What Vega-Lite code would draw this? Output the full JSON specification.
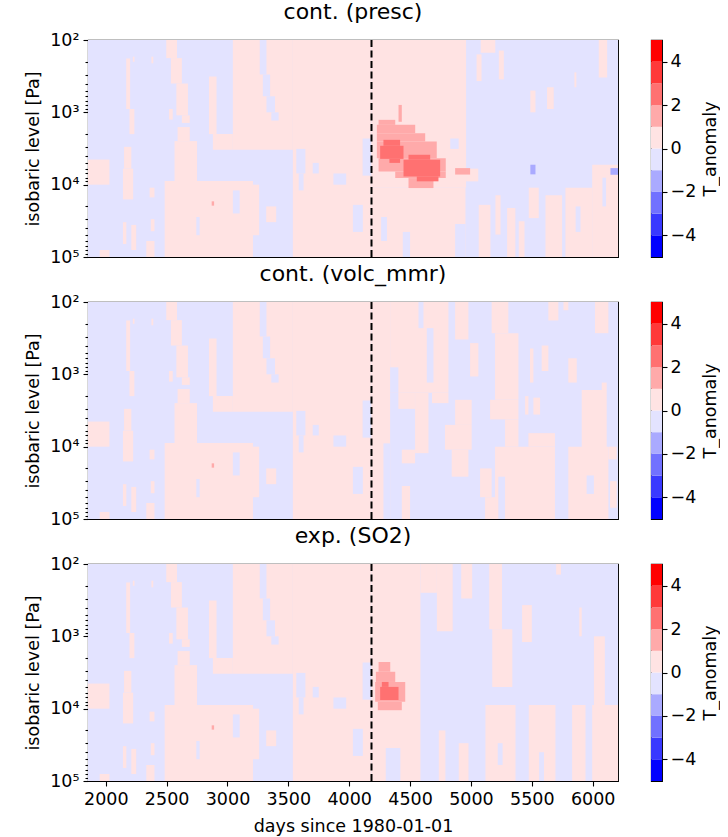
{
  "$schema": "https://vega.github.io/schema/vega-lite/v6.json",
  "padding": {"left": 24, "top": 0, "right": 0, "bottom": 3},
  "background": "white",
  "config": {
    "font": "DejaVu Sans",
    "view": {"stroke": "black", "strokeWidth": 1.1},
    "axis": {"labelFont": "DejaVu Sans", "titleFont": "DejaVu Sans", "labelFontSize": 17.5, "titleFontSize": 17.5, "titleFontWeight": "normal", "labelColor": "black", "titleColor": "black", "tickColor": "black", "domain": false, "grid": false, "tickWidth": 1.1},
    "title": {"fontSize": 22, "fontWeight": "normal", "font": "DejaVu Sans", "color": "black", "offset": 7, "anchor": "middle"}
  },
  "datasets": {
    "eruption": [{"day": 4183}],
    "levels": [
      {"lo": -5, "hi": -4, "mid": -4.5, "a": 0, "b": 1},
      {"lo": -4, "hi": -3, "mid": -3.5, "a": 0, "b": 1},
      {"lo": -3, "hi": -2, "mid": -2.5, "a": 0, "b": 1},
      {"lo": -2, "hi": -1, "mid": -1.5, "a": 0, "b": 1},
      {"lo": -1, "hi": 0, "mid": -0.5, "a": 0, "b": 1},
      {"lo": 0, "hi": 1, "mid": 0.5, "a": 0, "b": 1},
      {"lo": 1, "hi": 2, "mid": 1.5, "a": 0, "b": 1},
      {"lo": 2, "hi": 3, "mid": 2.5, "a": 0, "b": 1},
      {"lo": 3, "hi": 4, "mid": 3.5, "a": 0, "b": 1},
      {"lo": 4, "hi": 5, "mid": 4.5, "a": 0, "b": 1}
    ],
    "cells": [
      {"panel": "p1", "d0": 1854, "d1": 6208, "p0": 100, "p1": 100000, "T": -0.5},
      {"panel": "p2", "d0": 1854, "d1": 6208, "p0": 100, "p1": 100000, "T": -0.5},
      {"panel": "p3", "d0": 1854, "d1": 6208, "p0": 100, "p1": 100000, "T": -0.5},

      {"panel": "all", "d0": 2168, "d1": 2200, "p0": 180, "p1": 900, "T": 0.5},
      {"panel": "all", "d0": 2195, "d1": 2235, "p0": 900, "p1": 2000, "T": 0.5},
      {"panel": "all", "d0": 2222, "d1": 2236, "p0": 170, "p1": 200, "T": 0.5},
      {"panel": "all", "d0": 2375, "d1": 2390, "p0": 170, "p1": 210, "T": 0.5},
      {"panel": "all", "d0": 2497, "d1": 2585, "p0": 100, "p1": 178, "T": 0.5},
      {"panel": "all", "d0": 2535, "d1": 2625, "p0": 178, "p1": 400, "T": 0.5},
      {"panel": "all", "d0": 2580, "d1": 2675, "p0": 400, "p1": 1100, "T": 0.5},
      {"panel": "all", "d0": 2625, "d1": 2690, "p0": 1100, "p1": 1400, "T": 0.5},
      {"panel": "all", "d0": 2520, "d1": 2550, "p0": 900, "p1": 1260, "T": 0.5},
      {"panel": "all", "d0": 2590, "d1": 2690, "p0": 1600, "p1": 2500, "T": 0.5},
      {"panel": "all", "d0": 2565, "d1": 2750, "p0": 2500, "p1": 9000, "T": 0.5},
      {"panel": "all", "d0": 2848, "d1": 2910, "p0": 320, "p1": 2000, "T": 0.5},
      {"panel": "all", "d0": 2880, "d1": 3044, "p0": 2000, "p1": 3300, "T": 0.5},
      {"panel": "all", "d0": 3044, "d1": 3537, "p0": 100, "p1": 3300, "T": 0.5},
      {"panel": "all", "d0": 3537, "d1": 4183, "p0": 100, "p1": 100000, "T": 0.5},
      {"panel": "all", "d0": 2484, "d1": 3209, "p0": 8900, "p1": 100000, "T": 0.5},
      {"panel": "all", "d0": 3209, "d1": 3260, "p0": 10000, "p1": 50000, "T": 0.5},
      {"panel": "all", "d0": 3318, "d1": 3400, "p0": 20000, "p1": 33000, "T": 0.5},
      {"panel": "all", "d0": 1854, "d1": 2030, "p0": 4500, "p1": 10000, "T": 0.5},
      {"panel": "all", "d0": 2150, "d1": 2210, "p0": 3000, "p1": 6000, "T": 0.5},
      {"panel": "all", "d0": 2141, "d1": 2225, "p0": 6000, "p1": 16000, "T": 0.5},
      {"panel": "all", "d0": 2360, "d1": 2400, "p0": 11000, "p1": 15000, "T": 0.5},
      {"panel": "all", "d0": 2370, "d1": 2400, "p0": 30000, "p1": 44000, "T": 0.5},
      {"panel": "all", "d0": 2141, "d1": 2169, "p0": 33000, "p1": 66000, "T": 0.5},
      {"panel": "all", "d0": 2210, "d1": 2250, "p0": 36000, "p1": 80000, "T": 0.5},
      {"panel": "all", "d0": 2333, "d1": 2400, "p0": 60000, "p1": 100000, "T": 0.5},
      {"panel": "all", "d0": 1950, "d1": 2030, "p0": 80000, "p1": 100000, "T": 0.5},
      {"panel": "all", "d0": 3265, "d1": 3320, "p0": 100, "p1": 300, "T": -0.5},
      {"panel": "all", "d0": 3290, "d1": 3350, "p0": 300, "p1": 600, "T": -0.5},
      {"panel": "all", "d0": 3320, "d1": 3390, "p0": 600, "p1": 1000, "T": -0.5},
      {"panel": "all", "d0": 3360, "d1": 3420, "p0": 1000, "p1": 1300, "T": -0.5},
      {"panel": "all", "d0": 4110, "d1": 4183, "p0": 2300, "p1": 7500, "T": -0.5},
      {"panel": "all", "d0": 3565, "d1": 3640, "p0": 3200, "p1": 7000, "T": -0.5},
      {"panel": "all", "d0": 3585, "d1": 3625, "p0": 7000, "p1": 12000, "T": -0.5},
      {"panel": "all", "d0": 3700, "d1": 3750, "p0": 5000, "p1": 7000, "T": -0.5},
      {"panel": "all", "d0": 3870, "d1": 3975, "p0": 7000, "p1": 10000, "T": -0.5},
      {"panel": "all", "d0": 4030, "d1": 4112, "p0": 19000, "p1": 45000, "T": -0.5},
      {"panel": "all", "d0": 2744, "d1": 2771, "p0": 28000, "p1": 50000, "T": -0.5},
      {"panel": "all", "d0": 3044, "d1": 3100, "p0": 12000, "p1": 25000, "T": -0.5},
      {"panel": "all", "d0": 2870, "d1": 2890, "p0": 17000, "p1": 19500, "T": 1.5},

      {"panel": "p1", "d0": 4183, "d1": 4960, "p0": 100, "p1": 11000, "T": 0.5},
      {"panel": "p1", "d0": 4960, "d1": 5060, "p0": 6000, "p1": 9000, "T": 0.5},
      {"panel": "p1", "d0": 4183, "d1": 4955, "p0": 11000, "p1": 100000, "T": 0.5},
      {"panel": "p1", "d0": 4830, "d1": 4899, "p0": 2300, "p1": 3200, "T": -0.5},
      {"panel": "p1", "d0": 4262, "d1": 4310, "p0": 28000, "p1": 60000, "T": -0.5},
      {"panel": "p1", "d0": 4440, "d1": 4500, "p0": 45000, "p1": 100000, "T": -0.5},
      {"panel": "p1", "d0": 4870, "d1": 4955, "p0": 35000, "p1": 100000, "T": -0.5},
      {"panel": "p1", "d0": 5046, "d1": 5087, "p0": 158, "p1": 370, "T": 0.5},
      {"panel": "p1", "d0": 5080, "d1": 5200, "p0": 100, "p1": 150, "T": 0.5},
      {"panel": "p1", "d0": 5229, "d1": 5270, "p0": 140, "p1": 350, "T": 0.5},
      {"panel": "p1", "d0": 5488, "d1": 5530, "p0": 500, "p1": 1000, "T": 0.5},
      {"panel": "p1", "d0": 5625, "d1": 5680, "p0": 450, "p1": 900, "T": 0.5},
      {"panel": "p1", "d0": 5850, "d1": 5866, "p0": 280, "p1": 450, "T": 0.5},
      {"panel": "p1", "d0": 6050, "d1": 6119, "p0": 100, "p1": 330, "T": 0.5},
      {"panel": "p1", "d0": 5064, "d1": 5160, "p0": 19000, "p1": 100000, "T": 0.5},
      {"panel": "p1", "d0": 5201, "d1": 5243, "p0": 14000, "p1": 49000, "T": 0.5},
      {"panel": "p1", "d0": 5297, "d1": 5365, "p0": 21000, "p1": 100000, "T": 0.5},
      {"panel": "p1", "d0": 5393, "d1": 5440, "p0": 32000, "p1": 100000, "T": 0.5},
      {"panel": "p1", "d0": 5475, "d1": 5557, "p0": 11000, "p1": 29000, "T": 0.5},
      {"panel": "p1", "d0": 5612, "d1": 5749, "p0": 14000, "p1": 100000, "T": 0.5},
      {"panel": "p1", "d0": 5776, "d1": 5996, "p0": 11000, "p1": 100000, "T": 0.5},
      {"panel": "p1", "d0": 5996, "d1": 6208, "p0": 5300, "p1": 100000, "T": 0.5},
      {"panel": "p1", "d0": 5860, "d1": 5900, "p0": 20000, "p1": 45000, "T": -0.5},
      {"panel": "p1", "d0": 6080, "d1": 6110, "p0": 8000, "p1": 20000, "T": -0.5},
      {"panel": "p1", "d0": 4405, "d1": 4432, "p0": 790, "p1": 1350, "T": 1.5},
      {"panel": "p1", "d0": 4241, "d1": 4378, "p0": 1270, "p1": 1490, "T": 1.5},
      {"panel": "p1", "d0": 4227, "d1": 4542, "p0": 1490, "p1": 1950, "T": 1.5},
      {"panel": "p1", "d0": 4227, "d1": 4624, "p0": 1950, "p1": 2530, "T": 1.5},
      {"panel": "p1", "d0": 4227, "d1": 4719, "p0": 2530, "p1": 4300, "T": 1.5},
      {"panel": "p1", "d0": 4241, "d1": 4793, "p0": 4300, "p1": 6560, "T": 1.5},
      {"panel": "p1", "d0": 4378, "d1": 4793, "p0": 6560, "p1": 8110, "T": 1.5},
      {"panel": "p1", "d0": 4487, "d1": 4692, "p0": 8110, "p1": 11140, "T": 1.5},
      {"panel": "p1", "d0": 4870, "d1": 4993, "p0": 5900, "p1": 7250, "T": 1.5},
      {"panel": "p1", "d0": 4281, "d1": 4418, "p0": 2400, "p1": 2900, "T": 2.5},
      {"panel": "p1", "d0": 4254, "d1": 4446, "p0": 2900, "p1": 4400, "T": 2.5},
      {"panel": "p1", "d0": 4330, "d1": 4418, "p0": 4400, "p1": 5000, "T": 2.5},
      {"panel": "p1", "d0": 4487, "d1": 4665, "p0": 3860, "p1": 4520, "T": 2.5},
      {"panel": "p1", "d0": 4446, "d1": 4747, "p0": 4520, "p1": 7690, "T": 2.5},
      {"panel": "p1", "d0": 4555, "d1": 4733, "p0": 7690, "p1": 8990, "T": 2.5},
      {"panel": "p1", "d0": 5488, "d1": 5530, "p0": 5300, "p1": 7200, "T": -1.5},
      {"panel": "p1", "d0": 6146, "d1": 6208, "p0": 5900, "p1": 7300, "T": -1.5},

      {"panel": "p2", "d0": 4183, "d1": 4336, "p0": 100, "p1": 100000, "T": 0.5},
      {"panel": "p2", "d0": 4336, "d1": 4815, "p0": 100, "p1": 1800, "T": 0.5},
      {"panel": "p2", "d0": 4404, "d1": 4540, "p0": 1800, "p1": 3000, "T": 0.5},
      {"panel": "p2", "d0": 4680, "d1": 4815, "p0": 1800, "p1": 2500, "T": 0.5},
      {"panel": "p2", "d0": 4569, "d1": 4610, "p0": 100, "p1": 230, "T": -0.5},
      {"panel": "p2", "d0": 4637, "d1": 4692, "p0": 230, "p1": 1300, "T": -0.5},
      {"panel": "p2", "d0": 4336, "d1": 4404, "p0": 800, "p1": 1800, "T": -0.5},
      {"panel": "p2", "d0": 4541, "d1": 4651, "p0": 1800, "p1": 12300, "T": 0.5},
      {"panel": "p2", "d0": 4870, "d1": 5006, "p0": 2250, "p1": 5000, "T": 0.5},
      {"panel": "p2", "d0": 4787, "d1": 5006, "p0": 5000, "p1": 11000, "T": 0.5},
      {"panel": "p2", "d0": 4842, "d1": 4979, "p0": 11000, "p1": 26000, "T": 0.5},
      {"panel": "p2", "d0": 4870, "d1": 4979, "p0": 100, "p1": 330, "T": 0.5},
      {"panel": "p2", "d0": 4993, "d1": 5061, "p0": 370, "p1": 1070, "T": 0.5},
      {"panel": "p2", "d0": 5170, "d1": 5307, "p0": 100, "p1": 270, "T": 0.5},
      {"panel": "p2", "d0": 5198, "d1": 5390, "p0": 270, "p1": 2250, "T": 0.5},
      {"panel": "p2", "d0": 5157, "d1": 5390, "p0": 2250, "p1": 4200, "T": 0.5},
      {"panel": "p2", "d0": 5280, "d1": 5390, "p0": 4200, "p1": 10000, "T": 0.5},
      {"panel": "p2", "d0": 5198, "d1": 5690, "p0": 10000, "p1": 100000, "T": 0.5},
      {"panel": "p2", "d0": 5472, "d1": 5690, "p0": 6500, "p1": 10000, "T": 0.5},
      {"panel": "p2", "d0": 5225, "d1": 5280, "p0": 26000, "p1": 100000, "T": -0.5},
      {"panel": "p2", "d0": 5485, "d1": 5513, "p0": 440, "p1": 1300, "T": 0.5},
      {"panel": "p2", "d0": 5581, "d1": 5636, "p0": 400, "p1": 900, "T": 0.5},
      {"panel": "p2", "d0": 5445, "d1": 5472, "p0": 2000, "p1": 3600, "T": 0.5},
      {"panel": "p2", "d0": 5513, "d1": 5568, "p0": 2100, "p1": 3600, "T": 0.5},
      {"panel": "p2", "d0": 5800, "d1": 5869, "p0": 600, "p1": 1300, "T": 0.5},
      {"panel": "p2", "d0": 5636, "d1": 5718, "p0": 100, "p1": 180, "T": 0.5},
      {"panel": "p2", "d0": 5760, "d1": 5800, "p0": 100, "p1": 130, "T": 0.5},
      {"panel": "p2", "d0": 6019, "d1": 6129, "p0": 100, "p1": 270, "T": 0.5},
      {"panel": "p2", "d0": 5910, "d1": 6115, "p0": 1650, "p1": 15000, "T": 0.5},
      {"panel": "p2", "d0": 6074, "d1": 6115, "p0": 1300, "p1": 1650, "T": 0.5},
      {"panel": "p2", "d0": 5800, "d1": 6129, "p0": 10000, "p1": 100000, "T": 0.5},
      {"panel": "p2", "d0": 6129, "d1": 6197, "p0": 10000, "p1": 15000, "T": 0.5},
      {"panel": "p2", "d0": 6143, "d1": 6197, "p0": 30000, "p1": 70000, "T": 0.5},
      {"panel": "p2", "d0": 5950, "d1": 6010, "p0": 25000, "p1": 45000, "T": -0.5},
      {"panel": "p2", "d0": 4432, "d1": 4500, "p0": 35000, "p1": 100000, "T": 0.5},
      {"panel": "p2", "d0": 4432, "d1": 4541, "p0": 11000, "p1": 17000, "T": 0.5},
      {"panel": "p2", "d0": 5075, "d1": 5170, "p0": 20000, "p1": 50000, "T": 0.5},
      {"panel": "p2", "d0": 5116, "d1": 5198, "p0": 50000, "p1": 100000, "T": 0.5},
      {"panel": "p2", "d0": 4281, "d1": 4336, "p0": 9000, "p1": 100000, "T": -0.5},

      {"panel": "p3", "d0": 4183, "d1": 4585, "p0": 100, "p1": 100000, "T": 0.5},
      {"panel": "p3", "d0": 4585, "d1": 4720, "p0": 100, "p1": 250, "T": 0.5},
      {"panel": "p3", "d0": 4720, "d1": 4850, "p0": 100, "p1": 850, "T": 0.5},
      {"panel": "p3", "d0": 4920, "d1": 5010, "p0": 100, "p1": 300, "T": 0.5},
      {"panel": "p3", "d0": 5150, "d1": 5255, "p0": 100, "p1": 800, "T": 0.5},
      {"panel": "p3", "d0": 5175, "d1": 5340, "p0": 800, "p1": 5000, "T": 0.5},
      {"panel": "p3", "d0": 5420, "d1": 5500, "p0": 370, "p1": 1200, "T": 0.5},
      {"panel": "p3", "d0": 5890, "d1": 5910, "p0": 400, "p1": 1000, "T": 0.5},
      {"panel": "p3", "d0": 5700, "d1": 5740, "p0": 100, "p1": 140, "T": 0.5},
      {"panel": "p3", "d0": 6010, "d1": 6100, "p0": 1000, "p1": 9000, "T": 0.5},
      {"panel": "p3", "d0": 5119, "d1": 5366, "p0": 8900, "p1": 100000, "T": 0.5},
      {"panel": "p3", "d0": 5475, "d1": 5694, "p0": 8900, "p1": 100000, "T": 0.5},
      {"panel": "p3", "d0": 5831, "d1": 5941, "p0": 8900, "p1": 100000, "T": 0.5},
      {"panel": "p3", "d0": 5996, "d1": 6208, "p0": 8900, "p1": 100000, "T": 0.5},
      {"panel": "p3", "d0": 4736, "d1": 4790, "p0": 20000, "p1": 100000, "T": 0.5},
      {"panel": "p3", "d0": 4900, "d1": 4980, "p0": 30000, "p1": 100000, "T": 0.5},
      {"panel": "p3", "d0": 4300, "d1": 4420, "p0": 35000, "p1": 100000, "T": -0.5},
      {"panel": "p3", "d0": 5220, "d1": 5260, "p0": 30000, "p1": 60000, "T": -0.5},
      {"panel": "p3", "d0": 5560, "d1": 5600, "p0": 40000, "p1": 100000, "T": -0.5},
      {"panel": "p3", "d0": 4241, "d1": 4337, "p0": 2270, "p1": 3090, "T": 1.5},
      {"panel": "p3", "d0": 4219, "d1": 4378, "p0": 3090, "p1": 4270, "T": 1.5},
      {"panel": "p3", "d0": 4213, "d1": 4460, "p0": 4270, "p1": 8040, "T": 1.5},
      {"panel": "p3", "d0": 4235, "d1": 4432, "p0": 8040, "p1": 10500, "T": 1.5},
      {"panel": "p3", "d0": 4268, "d1": 4323, "p0": 4270, "p1": 5000, "T": 2.5},
      {"panel": "p3", "d0": 4254, "d1": 4405, "p0": 5000, "p1": 7590, "T": 2.5}
    ]
  },
  "columns": 2,
  "spacing": {"row": 45, "column": 33},
  "bounds": "flush",
  "resolve": {"scale": {"x": "independent", "y": "independent", "color": "independent"}},
  "concat": [
    {
      "title": "cont. (presc)",
      "width": 530, "height": 217,
      "layer": [
        {
          "data": {"name": "cells"},
          "transform": [{"filter": "datum.panel == 'p1' || datum.panel == 'all'"}],
          "mark": {"type": "rect", "clip": true},
          "encoding": {
            "x": {"field": "d0", "type": "quantitative", "scale": {"domain": [1854, 6208], "nice": false, "zero": false}, "axis": null},
            "x2": {"field": "d1"},
            "y": {"field": "p0", "type": "quantitative", "scale": {"type": "log", "domain": [100, 100000], "reverse": true, "nice": false},
              "axis": {"title": "isobaric level [Pa]", "values": [100,200,300,400,500,600,700,800,900,1000,2000,3000,4000,5000,6000,7000,8000,9000,10000,20000,30000,40000,50000,60000,70000,80000,90000,100000],
                "labelExpr": "datum.value == 100 ? '10²' : datum.value == 1000 ? '10³' : datum.value == 10000 ? '10⁴' : datum.value == 100000 ? '10⁵' : ''",
                "tickSize": {"condition": {"test": "indexof([100,1000,10000,100000], datum.value) >= 0", "value": 5}, "value": 3},
                "labelOverlap": false, "labelFlush": false, "labelPadding": 4, "titlePadding": 7}},
            "y2": {"field": "p1"},
            "color": {"field": "T", "type": "quantitative", "scale": {"type": "threshold", "domain": [-4,-3,-2,-1,0,1,2,3,4], "range": ["#0000ff","#3939ff","#7171ff","#aaaaff","#e3e3ff","#ffe3e3","#ffaaaa","#ff7171","#ff3939","#ff0000"]}, "legend": null}
          }
        },
        {
          "data": {"name": "eruption"},
          "mark": {"type": "rule", "color": "black", "strokeDash": [7, 3.5], "strokeWidth": 2},
          "encoding": {"x": {"field": "day", "type": "quantitative"}}
        }
      ]
    },
    {
      "width": 11, "height": 217,
      "data": {"name": "levels"},
      "mark": "rect",
      "encoding": {
        "x": {"field": "a", "type": "quantitative", "scale": {"domain": [0, 1], "nice": false}, "axis": null},
        "x2": {"field": "b"},
        "y": {"field": "lo", "type": "quantitative", "scale": {"domain": [-5, 5], "nice": false, "zero": false}, "axis": {"orient": "right", "values": [-4,-2,0,2,4], "title": "T_anomaly", "tickSize": 5, "labelPadding": 3, "titleAngle": 270, "titlePadding": 24}},
        "y2": {"field": "hi"},
        "color": {"field": "mid", "type": "quantitative", "scale": {"type": "threshold", "domain": [-4,-3,-2,-1,0,1,2,3,4], "range": ["#0000ff","#3939ff","#7171ff","#aaaaff","#e3e3ff","#ffe3e3","#ffaaaa","#ff7171","#ff3939","#ff0000"]}, "legend": null}
      }
    },
    {
      "title": "cont. (volc_mmr)",
      "width": 530, "height": 217,
      "layer": [
        {
          "data": {"name": "cells"},
          "transform": [{"filter": "datum.panel == 'p2' || datum.panel == 'all'"}],
          "mark": {"type": "rect", "clip": true},
          "encoding": {
            "x": {"field": "d0", "type": "quantitative", "scale": {"domain": [1854, 6208], "nice": false, "zero": false}, "axis": null},
            "x2": {"field": "d1"},
            "y": {"field": "p0", "type": "quantitative", "scale": {"type": "log", "domain": [100, 100000], "reverse": true, "nice": false},
              "axis": {"title": "isobaric level [Pa]", "values": [100,200,300,400,500,600,700,800,900,1000,2000,3000,4000,5000,6000,7000,8000,9000,10000,20000,30000,40000,50000,60000,70000,80000,90000,100000],
                "labelExpr": "datum.value == 100 ? '10²' : datum.value == 1000 ? '10³' : datum.value == 10000 ? '10⁴' : datum.value == 100000 ? '10⁵' : ''",
                "tickSize": {"condition": {"test": "indexof([100,1000,10000,100000], datum.value) >= 0", "value": 5}, "value": 3},
                "labelOverlap": false, "labelFlush": false, "labelPadding": 4, "titlePadding": 7}},
            "y2": {"field": "p1"},
            "color": {"field": "T", "type": "quantitative", "scale": {"type": "threshold", "domain": [-4,-3,-2,-1,0,1,2,3,4], "range": ["#0000ff","#3939ff","#7171ff","#aaaaff","#e3e3ff","#ffe3e3","#ffaaaa","#ff7171","#ff3939","#ff0000"]}, "legend": null}
          }
        },
        {
          "data": {"name": "eruption"},
          "mark": {"type": "rule", "color": "black", "strokeDash": [7, 3.5], "strokeWidth": 2},
          "encoding": {"x": {"field": "day", "type": "quantitative"}}
        }
      ]
    },
    {
      "width": 11, "height": 217,
      "data": {"name": "levels"},
      "mark": "rect",
      "encoding": {
        "x": {"field": "a", "type": "quantitative", "scale": {"domain": [0, 1], "nice": false}, "axis": null},
        "x2": {"field": "b"},
        "y": {"field": "lo", "type": "quantitative", "scale": {"domain": [-5, 5], "nice": false, "zero": false}, "axis": {"orient": "right", "values": [-4,-2,0,2,4], "title": "T_anomaly", "tickSize": 5, "labelPadding": 3, "titleAngle": 270, "titlePadding": 24}},
        "y2": {"field": "hi"},
        "color": {"field": "mid", "type": "quantitative", "scale": {"type": "threshold", "domain": [-4,-3,-2,-1,0,1,2,3,4], "range": ["#0000ff","#3939ff","#7171ff","#aaaaff","#e3e3ff","#ffe3e3","#ffaaaa","#ff7171","#ff3939","#ff0000"]}, "legend": null}
      }
    },
    {
      "title": "exp. (SO2)",
      "width": 530, "height": 217,
      "layer": [
        {
          "data": {"name": "cells"},
          "transform": [{"filter": "datum.panel == 'p3' || datum.panel == 'all'"}],
          "mark": {"type": "rect", "clip": true},
          "encoding": {
            "x": {"field": "d0", "type": "quantitative", "scale": {"domain": [1854, 6208], "nice": false, "zero": false},
              "axis": {"title": "days since 1980-01-01", "values": [2000,2500,3000,3500,4000,4500,5000,5500,6000], "format": "d", "tickSize": 5, "labelPadding": 4, "titlePadding": 10, "labelFlush": false}},
            "x2": {"field": "d1"},
            "y": {"field": "p0", "type": "quantitative", "scale": {"type": "log", "domain": [100, 100000], "reverse": true, "nice": false},
              "axis": {"title": "isobaric level [Pa]", "values": [100,200,300,400,500,600,700,800,900,1000,2000,3000,4000,5000,6000,7000,8000,9000,10000,20000,30000,40000,50000,60000,70000,80000,90000,100000],
                "labelExpr": "datum.value == 100 ? '10²' : datum.value == 1000 ? '10³' : datum.value == 10000 ? '10⁴' : datum.value == 100000 ? '10⁵' : ''",
                "tickSize": {"condition": {"test": "indexof([100,1000,10000,100000], datum.value) >= 0", "value": 5}, "value": 3},
                "labelOverlap": false, "labelFlush": false, "labelPadding": 4, "titlePadding": 7}},
            "y2": {"field": "p1"},
            "color": {"field": "T", "type": "quantitative", "scale": {"type": "threshold", "domain": [-4,-3,-2,-1,0,1,2,3,4], "range": ["#0000ff","#3939ff","#7171ff","#aaaaff","#e3e3ff","#ffe3e3","#ffaaaa","#ff7171","#ff3939","#ff0000"]}, "legend": null}
          }
        },
        {
          "data": {"name": "eruption"},
          "mark": {"type": "rule", "color": "black", "strokeDash": [7, 3.5], "strokeWidth": 2},
          "encoding": {"x": {"field": "day", "type": "quantitative"}}
        }
      ]
    },
    {
      "width": 11, "height": 217,
      "data": {"name": "levels"},
      "mark": "rect",
      "encoding": {
        "x": {"field": "a", "type": "quantitative", "scale": {"domain": [0, 1], "nice": false}, "axis": null},
        "x2": {"field": "b"},
        "y": {"field": "lo", "type": "quantitative", "scale": {"domain": [-5, 5], "nice": false, "zero": false}, "axis": {"orient": "right", "values": [-4,-2,0,2,4], "title": "T_anomaly", "tickSize": 5, "labelPadding": 3, "titleAngle": 270, "titlePadding": 24}},
        "y2": {"field": "hi"},
        "color": {"field": "mid", "type": "quantitative", "scale": {"type": "threshold", "domain": [-4,-3,-2,-1,0,1,2,3,4], "range": ["#0000ff","#3939ff","#7171ff","#aaaaff","#e3e3ff","#ffe3e3","#ffaaaa","#ff7171","#ff3939","#ff0000"]}, "legend": null}
      }
    }
  ]
}
